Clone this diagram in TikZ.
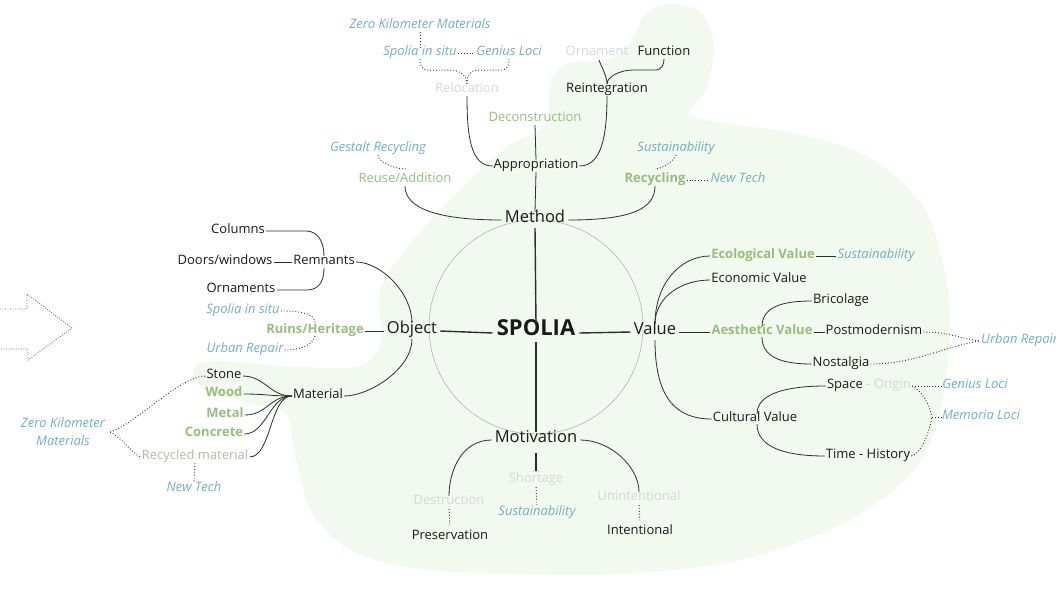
\documentclass[tikz,border=0pt]{standalone}
\usepackage{fontspec}
\setmainfont{Open Sans}
\usetikzlibrary{calc}
\definecolor{blobc}{RGB}{242,249,239}
\definecolor{gtxt}{RGB}{150,190,125}
\definecolor{rtxt}{RGB}{172,190,160}
\definecolor{ttxt}{RGB}{112,176,190}
\definecolor{ltxt}{RGB}{214,216,214}
\definecolor{ktxt}{RGB}{25,25,25}
\definecolor{lin}{RGB}{45,45,45}
\begin{document}
\begin{tikzpicture}[x=1pt,y=-1pt,
 lbl/.style={inner sep=1pt, yshift=-3pt, text height=.75em, text depth=.22em, font=\fontsize{13}{15}\selectfont, text=ktxt},
 hub/.style={lbl, inner sep=3pt, font=\fontsize{16.5}{19}\selectfont},
 grn/.style={lbl, text=gtxt},
 grnb/.style={lbl, text=gtxt, font=\fontsize{13}{15}\selectfont\bfseries},
 rec/.style={lbl, text=rtxt},
 tl/.style={lbl, text=ttxt, font=\fontsize{13}{15}\selectfont\itshape},
 gry/.style={lbl, text=ltxt},
 con/.style={draw=lin, line width=0.8pt},
 hubline/.style={draw=lin, line width=1.4pt},
 dcon/.style={draw=lin, line width=0.9pt, dash pattern=on 0.9pt off 2pt},
 circ/.style={draw=black!35, line width=0.45pt},
 arrowdot/.style={draw=black!60, line width=0.9pt, dash pattern=on 0.9pt off 1.6pt}]
\useasboundingbox (0,0) rectangle (1056,595);

% background blob
\fill[blobc] plot[smooth cycle, tension=0.55] coordinates {
 (668,4) (700,12) (714,45) (706,90) (690,114) (730,124) (800,134) (870,158)
 (925,210) (948,290) (948,360) (935,430) (905,480) (840,525) (740,560)
 (620,574) (480,573) (400,566) (345,547) (310,508) (294,450) (286,414)
 (245,402) (205,390) (193,370) (212,361) (300,367) (360,366) (381,343)
 (380,290) (405,250) (440,210) (475,175) (510,145) (545,125) (550,85)
 (565,64) (612,58) (632,40) (645,14)};

% left dotted arrow
\draw[arrowdot] (0,309) -- (27,309) -- (27,294) -- (72,328) -- (28,360) -- (28,349) -- (0,349);

% circle
\draw[circ] (536,327) circle[radius=107pt];

% hub nodes
\node[lbl, inner sep=4pt, yshift=-2pt, font=\fontsize{22}{26}\selectfont\bfseries] (spolia) at (536,328) {SPOLIA};
\node[hub] (method) at (535,217) {Method};
\node[hub] (object) at (412,328) {Object};
\node[hub] (value) at (655,329) {Value};
\node[hub] (motivation) at (536,437) {Motivation};

% Method branch nodes
\node[lbl] (approp) at (536,163) {Appropriation};
\node[grn] (decon) at (535,116) {Deconstruction};
\node[gry] (reloc) at (467,87) {Relocation};
\node[lbl] (reint) at (607,87) {Reintegration};
\node[gry] (ornament) at (597,50) {Ornament};
\node[lbl] (function) at (664,50) {Function};
\node[tl] (spoliaT) at (420,50) {Spolia in situ};
\node[tl] (geniusT) at (509,50) {Genius Loci};
\node[tl] (zeroT) at (420,23) {Zero Kilometer Materials};
\node[grn] (reuse) at (405,177) {Reuse/Addition};
\node[tl] (gestalt) at (378,146) {Gestalt Recycling};
\node[grnb] (recycling) at (655,177) {Recycling};
\node[tl] (newtechT) at (738,177) {New Tech};
\node[tl] (sustT) at (676,146) {Sustainability};

% Object branch nodes
\node[lbl] (remnants) at (324,259) {Remnants};
\node[lbl] (doors) at (225,259) {Doors/windows};
\node[lbl] (columns) at (238,228) {Columns};
\node[lbl] (ornaments) at (241,287) {Ornaments};
\node[grnb] (ruins) at (315,328) {Ruins/Heritage};
\node[tl] (spoliaL) at (243,308) {Spolia in situ};
\node[tl] (urbanL) at (245,347) {Urban Repair};
\node[lbl] (material) at (318,393) {Material};
\node[lbl] (stone) at (224,373) {Stone};
\node[grnb] (wood) at (224,391) {Wood};
\node[grnb] (metal) at (225,412) {Metal};
\node[grnb] (concrete) at (214,431) {Concrete};
\node[rec] (recycled) at (195,454) {Recycled material};
\node[tl] (newtechL) at (194,486) {New Tech};
\node[inner sep=1pt, text=ttxt, font=\fontsize{13}{18}\selectfont\itshape, align=center] (zeroL) at (63,432) {Zero Kilometer\\Materials};

% Value branch nodes
\node[grnb] (ecological) at (763,253) {Ecological Value};
\node[tl] (sustV) at (876,253) {Sustainability};
\node[lbl] (economic) at (759,277) {Economic Value};
\node[grnb] (aesthetic) at (762,329) {Aesthetic Value};
\node[lbl] (bricolage) at (841,298) {Bricolage};
\node[lbl] (postmod) at (874,329) {Postmodernism};
\node[lbl] (nostalgia) at (841,361) {Nostalgia};
\node[tl, anchor=west] (urbanR) at (980,338) {Urban Repair};
\node[lbl] (cultural) at (755,416) {Cultural Value};
\node[lbl] (space) at (845,383) {Space};
\node[gry, anchor=west] (origin) at (865,383) {- Origin};
\node[tl] (geniusR) at (975,383) {Genius Loci};
\node[tl] (memoria) at (981,414) {Memoria Loci};
\node[lbl] (time) at (868,453) {Time - History};

% Motivation branch nodes
\node[gry] (destruction) at (449,499) {Destruction};
\node[lbl] (preservation) at (450,534) {Preservation};
\node[gry] (shortage) at (536,477) {Shortage};
\node[tl] (sustM) at (537,510) {Sustainability};
\node[gry] (unintentional) at (639,495) {Unintentional};
\node[lbl] (intentional) at (640,529) {Intentional};

% central cross
\draw[hubline] (spolia.north) -- (method.south);
\draw[hubline] (spolia.south) -- (motivation.north);
\draw[hubline] (spolia.west) -- (object.east);
\draw[hubline] (spolia.east) -- (value.west);

% Method connectors
\draw[con] (method.west) .. controls +(-65,0) and +(0,22) .. (reuse.south);
\draw[con] (method.east) .. controls +(65,0) and +(0,22) .. (recycling.south);
\draw[con] (method.north) -- (approp.south);
\draw[con] (approp.north) -- (decon.south);
\draw[con] (approp.west) .. controls +(-22,0) and +(0,40) .. (reloc.south);
\draw[con] (approp.east) .. controls +(22,0) and +(0,40) .. (reint.south);
\draw[con] (reint.north) .. controls +(0,-8) and +(2,6) .. ($(ornament.south)+(2,1)$);
\draw[con] (reint.north) .. controls +(0,-8) and +(-10,0) .. ($(function.south)+(-32,11)$) -- ($(function.south)+(-9,11)$) .. controls +(7,0) and +(0,5) .. (function.south);
\draw[dcon] (reloc.north) .. controls +(0,-8) and +(10,0) .. ($(spoliaT.south)+(30,11)$) -- ($(spoliaT.south)+(8,11)$) .. controls +(-7,0) and +(0,5) .. (spoliaT.south);
\draw[dcon] (reloc.north) .. controls +(0,-8) and +(-10,0) .. ($(geniusT.south)+(-30,11)$) -- ($(geniusT.south)+(-8,11)$) .. controls +(7,0) and +(0,5) .. (geniusT.south);
\draw[dcon] (spoliaT.east) -- (geniusT.west);
\draw[dcon] (zeroT.south) -- (spoliaT.north);
\draw[dcon] (gestalt.south) .. controls +(0,6) and +(-14,0) .. ($(reuse.north)+(1,-5)$);
\draw[dcon] (sustT.south) .. controls +(-2,5) and +(10,-1) .. ($(recycling.north)+(0,-5)$);
\draw[dcon] (recycling.east) -- (newtechT.west);

% Object connectors
\draw[con] (object.west) -- (ruins.east);
\draw[con] (object.north) .. controls +(0,-30) and +(25,0) .. (remnants.east);
\draw[con] (object.south) .. controls +(0,30) and +(25,0) .. (material.east);
\draw[con] (remnants.west) -- (doors.east);
\draw[con] (remnants.north) .. controls +(0,-14) and +(12,0) .. ($(columns.east)+(40,0)$) -- (columns.east);
\draw[con] (remnants.south) .. controls +(0,14) and +(12,0) .. ($(ornaments.east)+(30,0)$) -- (ornaments.east);
\draw[dcon] (spoliaL.east) .. controls +(24,0) and +(0,-8) .. ($(ruins.north)+(0,-2)$);
\draw[dcon] (urbanL.east) .. controls +(22,0) and +(0,6) .. ($(ruins.south)+(0,-2)$);
\draw[con] (material.west) .. controls +(-22,0) and +(22,0) .. (stone.east);
\draw[con] (material.west) .. controls +(-22,0) and +(22,0) .. (wood.east);
\draw[con] (material.west) .. controls +(-22,0) and +(22,0) .. (metal.east);
\draw[con] (material.west) .. controls +(-22,0) and +(22,0) .. (concrete.east);
\draw[con] (material.west) .. controls +(-22,0) and +(22,0) .. (recycled.east);
\draw[dcon] ($(zeroL.east)+(4,0)$) .. controls +(25,-8) and +(-25,0) .. (stone.west);
\draw[dcon] ($(zeroL.east)+(4,0)$) .. controls +(12,6) and +(-8,-3) .. (recycled.west);
\draw[dcon] (recycled.south) -- (newtechL.north);

% Value connectors
\draw[con] (value.east) -- (aesthetic.west);
\draw[con] (value.north) .. controls +(0,-40) and +(-30,0) .. (ecological.west);
\draw[con] (value.north) .. controls +(0,-26) and +(-30,0) .. (economic.west);
\draw[con] (value.south) .. controls +(0,55) and +(-38,0) .. (cultural.west);
\draw[con] (ecological.east) -- (sustV.west);
\draw[con] (aesthetic.east) -- (postmod.west);
\draw[con] ($(aesthetic.north)+(0,1)$) .. controls +(0,-20) and +(-30,0) .. (bricolage.west);
\draw[con] ($(aesthetic.south)+(0,-1)$) .. controls +(0,20) and +(-30,0) .. (nostalgia.west);
\draw[dcon] (postmod.east) .. controls +(25,0) and +(-22,-3) .. (urbanR.west);
\draw[dcon] (nostalgia.east) .. controls +(45,0) and +(-35,5) .. (urbanR.west);
\draw[con] ($(cultural.north)+(2,1)$) .. controls +(0,-22) and +(-35,0) .. (space.west);
\draw[con] ($(cultural.south)+(2,-1)$) .. controls +(0,25) and +(-35,0) .. (time.west);
\draw[dcon] (origin.east) -- (geniusR.west);
\draw[dcon] (origin.east) .. controls +(10,5) and +(-2,-12) .. ($(memoria.west)+(-9,0)$);
\draw[dcon] (time.east) .. controls +(10,-2) and +(-2,14) .. ($(memoria.west)+(-9,0)$);
\draw[dcon] ($(memoria.west)+(-9,0)$) -- (memoria.west);

% Motivation connectors
\draw[con] (motivation.west) .. controls +(-30,0) and +(0,-25) .. (destruction.north);
\draw[con] (motivation.east) .. controls +(30,0) and +(0,-25) .. (unintentional.north);
\draw[hubline, shorten <=5pt, shorten >=3pt] (motivation.south) -- (shortage.north);
\draw[dcon, shorten <=1pt, shorten >=5pt] (destruction.south) -- (preservation.north);
\draw[dcon, shorten <=1pt, shorten >=2pt] (shortage.south) -- (sustM.north);
\draw[dcon, shorten <=1pt, shorten >=5pt] (unintentional.south) -- (intentional.north);
\end{tikzpicture}
\end{document}
